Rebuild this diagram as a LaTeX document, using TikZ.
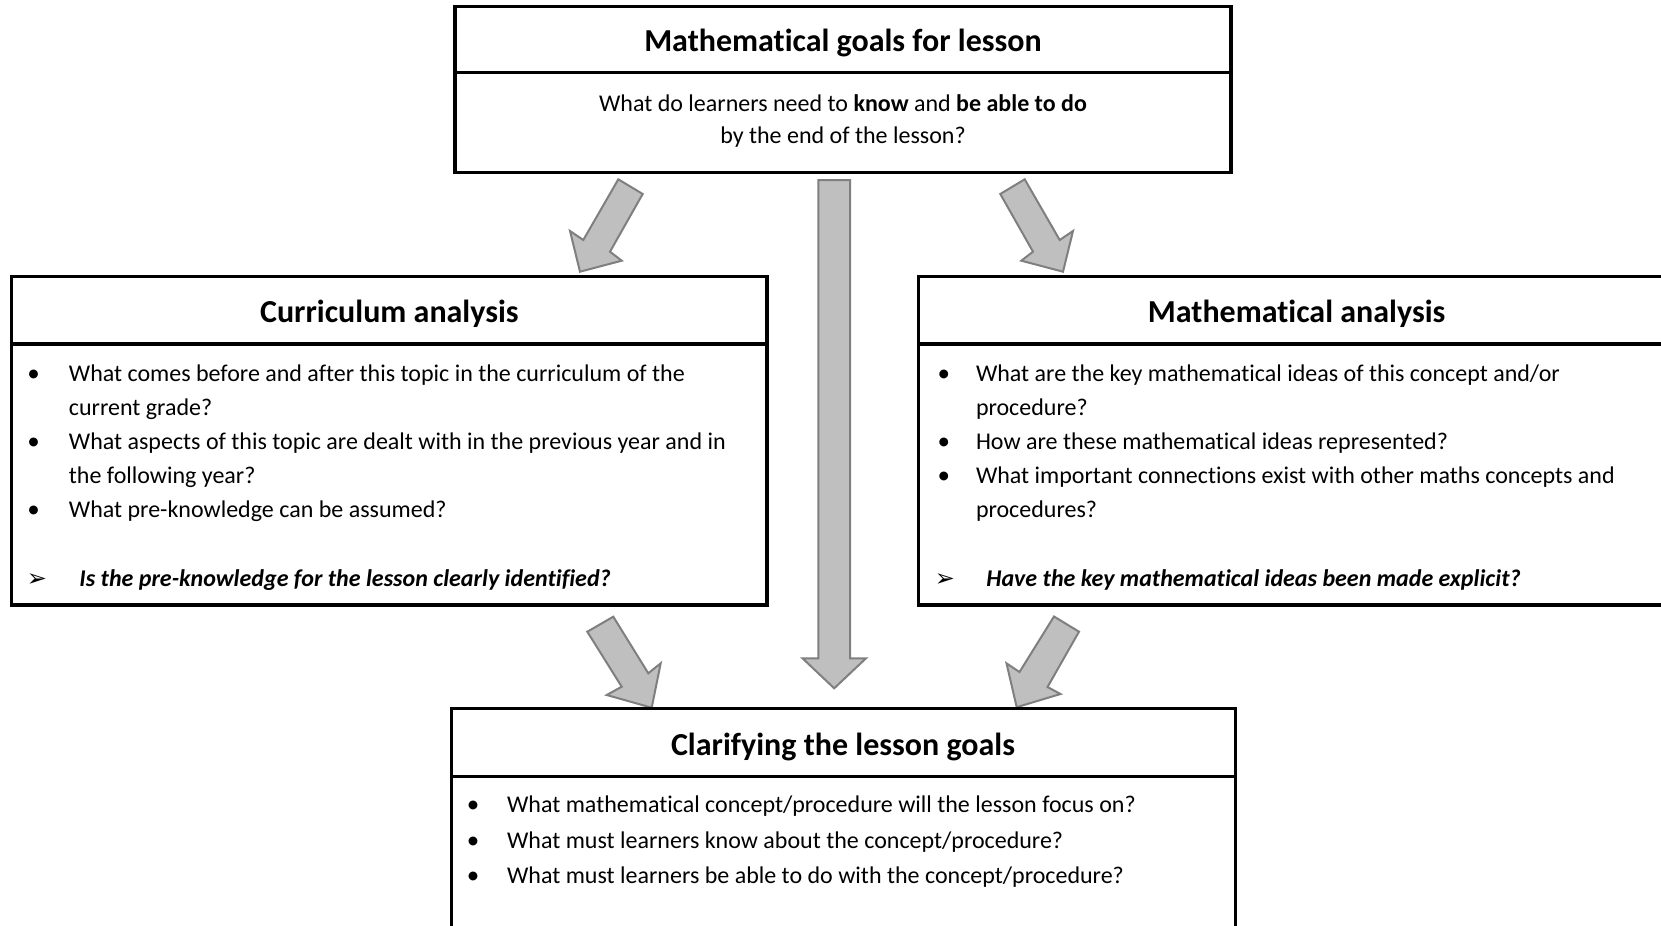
\documentclass[tikz,border=0pt]{standalone}
\usepackage{fontspec}
\setmainfont{Carlito}[Ligatures=NoCommon]
\newfontfamily\symfont{DejaVu Sans}
\definecolor{arrowfill}{HTML}{BFBFBF}
\definecolor{arrowedge}{HTML}{7F7F7F}
\tikzset{
  box/.style={draw=black, line width=1.6pt},
  barrow/.style={fill=arrowfill, draw=arrowedge, line width=1pt, line join=miter},
  ttl/.style={font=\fontsize{16}{19}\selectfont\bfseries, anchor=base, inner sep=0pt},
  txt/.style={font=\fontsize{12}{14}\selectfont, anchor=base west, inner sep=0pt},
  ctxt/.style={font=\fontsize{12}{14}\selectfont, anchor=base, inner sep=0pt},
  bul/.style={font=\fontsize{12.5}{14}\selectfont, anchor=base, inner sep=0pt},
  ital/.style={font=\fontsize{12}{14}\selectfont\bfseries\itshape, anchor=base west, inner sep=0pt},
  pointer/.style={font=\symfont\fontsize{12}{14}\selectfont, anchor=base, inner sep=0pt},
}
\begin{document}
\begin{tikzpicture}[x=0.5pt,y=-0.5pt]
\useasboundingbox (0,0) rectangle (1661,926);
\clip (0,0) rectangle (1661,926);

% ---------- block arrows ----------
% centre
\draw[barrow] (818.3,180) -- (850,180) -- (850,658.3) -- (866,658.3) -- (834.2,688.3)
  -- (802.5,658.3) -- (818.3,658.3) -- cycle;
% top left
\draw[barrow] (618.3,179.3) -- (642.7,194) -- (610,251.7) -- (621.7,260.7) -- (580,271.7)
  -- (570,231) -- (583.3,240) -- cycle;
% top right
\draw[barrow] (1024.7,179.3) -- (1000.3,194) -- (1033,251.7) -- (1021.3,260.7) -- (1063,271.7)
  -- (1073,231) -- (1059.7,240) -- cycle;
% bottom left
\draw[barrow] (587.3,631.7) -- (613.3,616.7) -- (648.3,673.3) -- (660.7,663.3) -- (651.7,707.7)
  -- (606.7,695) -- (621.7,686.7) -- cycle;
% bottom right
\draw[barrow] (1079,631.7) -- (1054,616.5) -- (1019.5,672) -- (1006.5,663.3) -- (1016.7,707.2)
  -- (1060.5,694) -- (1047.5,687) -- cycle;

% ---------- top box ----------
\draw[box] (455,6.7) rectangle (1231,172.7);
\draw[box] (455,72.7) -- (1231,72.7);
\node[ttl] (goalsT) at (843,51) {Mathematical goals for lesson};
\node[ctxt] (goals1) at (843,111) {What do learners need to \textbf{know} and \textbf{be able to do}};
\node[ctxt] (goals2) at (843,143.5) {by the end of the lesson?};

% ---------- left box ----------
\draw[box] (11.7,276.7) rectangle (767,605);
\draw[box] (11.7,344) -- (767,344);
\node[ttl] (curT) at (389.4,322) {Curriculum analysis};
\node[bul] (curB1) at (33.5,381) {•};
\node[txt] (cur1) at (68.5,381) {What comes before and after this topic in the curriculum of the};
\node[txt] (cur1b) at (68.5,415.2) {current grade?};
\node[bul] (curB2) at (33.5,449.4) {•};
\node[txt] (cur2) at (68.5,449.4) {What aspects of this topic are dealt with in the previous year and in};
\node[txt] (cur2b) at (68.5,483.6) {the following year?};
\node[bul] (curB3) at (33.5,517.8) {•};
\node[txt] (cur3) at (68.5,517.8) {What pre-knowledge can be assumed?};
\node[pointer] (curP) at (37,586) {➢};
\node[ital] (curQ) at (79,586) {Is the pre-knowledge for the lesson clearly identified?};

% ---------- right box ----------
\draw[box] (918.4,276.7) rectangle (1675,605);
\draw[box] (918.4,344) -- (1675,344);
\node[ttl] (matT) at (1296.6,322) {Mathematical analysis};
\node[bul] (matB1) at (943.8,381) {•};
\node[txt] (mat1) at (975.6,381) {What are the key mathematical ideas of this concept and/or};
\node[txt] (mat1b) at (975.6,415.2) {procedure?};
\node[bul] (matB2) at (943.8,449.4) {•};
\node[txt] (mat2) at (975.6,449.4) {How are these mathematical ideas represented?};
\node[bul] (matB3) at (943.8,483.6) {•};
\node[txt] (mat3) at (975.6,483.6) {What important connections exist with other maths concepts and};
\node[txt] (mat3b) at (975.6,517.8) {procedures?};
\node[pointer] (matP) at (945,586) {➢};
\node[ital] (matQ) at (986,586) {Have the key mathematical ideas been made explicit?};

% ---------- bottom box ----------
\draw[box] (451.3,708.7) rectangle (1235.2,960);
\draw[box] (451.3,776.5) -- (1235.2,776.5);
\node[ttl] (claT) at (843,755.5) {Clarifying the lesson goals};
\node[bul] (claB1) at (473,812.5) {•};
\node[txt] (cla1) at (506.7,812.5) {What mathematical concept/procedure will the lesson focus on?};
\node[bul] (claB2) at (473,848) {•};
\node[txt] (cla2) at (506.7,848) {What must learners know about the concept/procedure?};
\node[bul] (claB3) at (473,883.5) {•};
\node[txt] (cla3) at (506.7,883.5) {What must learners be able to do with the concept/procedure?};
\end{tikzpicture}
\end{document}
